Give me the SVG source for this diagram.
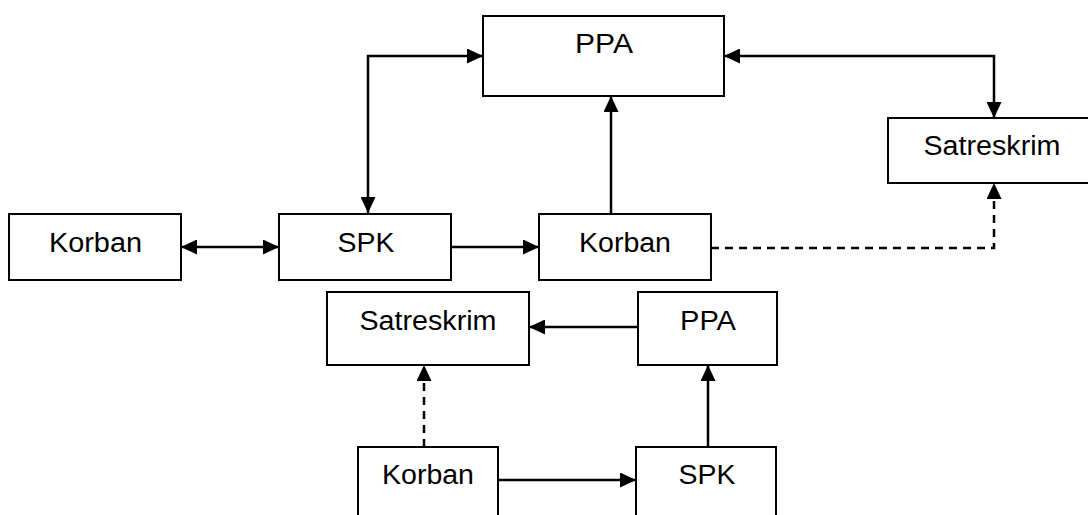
<svg xmlns="http://www.w3.org/2000/svg" width="1088" height="515" viewBox="0 0 1088 515">
<style>
.box{fill:#fff;stroke:#000;stroke-width:2}
.lbl{font-family:"Liberation Sans",Arial,sans-serif;font-size:27px;fill:#000;text-anchor:middle}
.ln{fill:none;stroke:#000;stroke-width:2.5}
.dash{stroke-dasharray:8,6}
</style>
<defs>
<marker id="ah" markerUnits="userSpaceOnUse" markerWidth="16" markerHeight="15" viewBox="0 0 16 15" refX="16" refY="7.5" orient="auto-start-reverse">
<path d="M0,0 L16,7.5 L0,15 Z" fill="#000"/>
</marker>
</defs>
<rect width="1088" height="515" fill="#fff"/>
<g id="connectors">
<path class="ln" d="M368,213 V56 H483" marker-start="url(#ah)" marker-end="url(#ah)"/>
<path class="ln" d="M724,56 H994 V118" marker-start="url(#ah)" marker-end="url(#ah)"/>
<path class="ln" d="M181,247 H279" marker-start="url(#ah)" marker-end="url(#ah)"/>
<path class="ln" d="M451,247 H539" marker-end="url(#ah)"/>
<path class="ln" d="M611,213 V96" marker-end="url(#ah)"/>
<path class="ln dash" d="M711,248 H994 V183" marker-end="url(#ah)"/>
<path class="ln" d="M638,327 H529" marker-end="url(#ah)"/>
<path class="ln dash" d="M424,447 V365" marker-end="url(#ah)"/>
<path class="ln" d="M498,480 H636" marker-end="url(#ah)"/>
<path class="ln" d="M708,447 V365" marker-end="url(#ah)"/>
</g>
<g id="ppa-top"><rect class="box" x="483" y="16" width="241" height="80"/><text class="lbl" x="604" y="53" textLength="58" lengthAdjust="spacingAndGlyphs">PPA</text></g>
<g id="satreskrim-right"><rect class="box" x="888" y="118" width="210" height="65"/><text class="lbl" x="992" y="155" textLength="137" lengthAdjust="spacingAndGlyphs">Satreskrim</text></g>
<g id="korban-left"><rect class="box" x="9" y="214" width="172" height="66"/><text class="lbl" x="95.5" y="252" textLength="93" lengthAdjust="spacingAndGlyphs">Korban</text></g>
<g id="spk-mid"><rect class="box" x="279" y="214" width="172" height="66"/><text class="lbl" x="366" y="252" textLength="57" lengthAdjust="spacingAndGlyphs">SPK</text></g>
<g id="korban-mid"><rect class="box" x="539" y="214" width="172" height="66"/><text class="lbl" x="625" y="252" textLength="92" lengthAdjust="spacingAndGlyphs">Korban</text></g>
<g id="satreskrim-low"><rect class="box" x="327" y="292" width="202" height="73"/><text class="lbl" x="428" y="330" textLength="137" lengthAdjust="spacingAndGlyphs">Satreskrim</text></g>
<g id="ppa-low"><rect class="box" x="638" y="292" width="139" height="73"/><text class="lbl" x="708" y="330" textLength="56" lengthAdjust="spacingAndGlyphs">PPA</text></g>
<g id="korban-low"><rect class="box" x="358" y="447" width="140" height="80"/><text class="lbl" x="428" y="484" textLength="92" lengthAdjust="spacingAndGlyphs">Korban</text></g>
<g id="spk-low"><rect class="box" x="636" y="447" width="140" height="80"/><text class="lbl" x="707" y="484" textLength="57" lengthAdjust="spacingAndGlyphs">SPK</text></g>
</svg>
